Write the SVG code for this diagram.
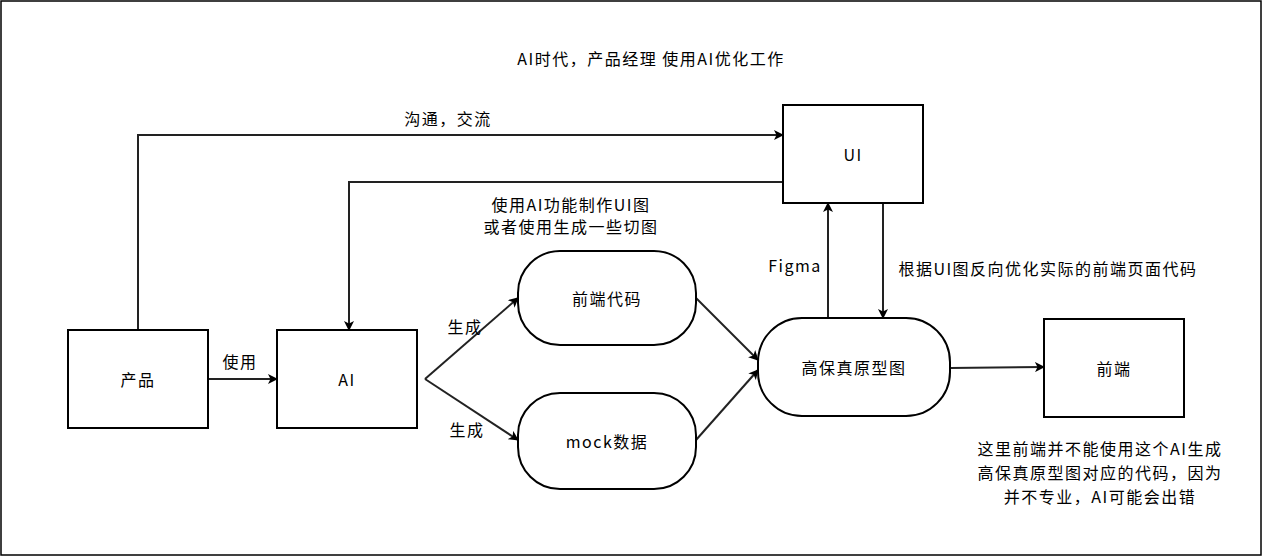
<svg xmlns="http://www.w3.org/2000/svg" width="1263" height="557" viewBox="0 0 1263 557">
<defs>
<marker id="a" viewBox="0 0 10 10" refX="9" refY="5" markerWidth="10" markerHeight="10" markerUnits="userSpaceOnUse" orient="auto"><path d="M0,0 L10,5 L0,10 L2.5,5 z" fill="#000"/></marker>
<style>
.n{fill:#fff;stroke:#000;stroke-width:2}
.c{fill:none;stroke:#222;stroke-width:2;marker-end:url(#a)}
text{font-family:"Noto Sans CJK SC","Liberation Sans",sans-serif;font-size:16px;letter-spacing:1.5px;fill:#000;text-anchor:middle;dominant-baseline:central}
</style>
</defs>
<rect x="1" y="1" width="1260" height="554" fill="#fff" stroke="#000" stroke-width="1.5"/>
<text x="651" y="58">AI时代，产品经理 使用AI优化工作</text>
<g id="connectors">
<path class="c" d="M138,330 V135 H783"/>
<path class="c" d="M783,182 H349 V330"/>
<path class="c" d="M208,379 H277"/>
<path class="c" d="M425,379 L518,298"/>
<path class="c" d="M425,379 L518,440"/>
<path class="c" d="M696,298 L758,360"/>
<path class="c" d="M696,440 L758,370"/>
<path class="c" d="M828,318 V203"/>
<path class="c" d="M883,203 V318"/>
<path class="c" d="M950,368 L1044,367"/>
<text x="448" y="118">沟通，交流</text>
<text x="571" y="204">使用AI功能制作UI图</text>
<text x="571" y="226">或者使用生成一些切图</text>
<text x="240" y="361">使用</text>
<text x="465" y="326">生成</text>
<text x="467" y="429">生成</text>
<text x="795" y="265">Figma</text>
<text x="1048" y="268">根据UI图反向优化实际的前端页面代码</text>
</g>
<g id="n1"><rect class="n" x="68" y="330" width="140" height="98"/><text x="138" y="379">产品</text></g>
<g id="n2"><rect class="n" x="277" y="330" width="140" height="98"/><text x="347" y="379">AI</text></g>
<g id="n3"><rect class="n" x="518" y="251" width="178" height="94" rx="42"/><text x="607" y="298">前端代码</text></g>
<g id="n4"><rect class="n" x="518" y="393" width="178" height="96" rx="42"/><text x="607" y="441">mock数据</text></g>
<g id="n5"><rect class="n" x="758" y="318" width="192" height="98" rx="44"/><text x="854" y="367">高保真原型图</text></g>
<g id="n6"><rect class="n" x="783" y="105" width="140" height="98"/><text x="853" y="154">UI</text></g>
<g id="n7"><rect class="n" x="1044" y="319" width="140" height="98"/><text x="1114" y="368">前端</text></g>
<g id="note">
<text x="1100" y="448">这里前端并不能使用这个AI生成</text>
<text x="1100" y="472">高保真原型图对应的代码，因为</text>
<text x="1100" y="496">并不专业，AI可能会出错</text>
</g>
</svg>
